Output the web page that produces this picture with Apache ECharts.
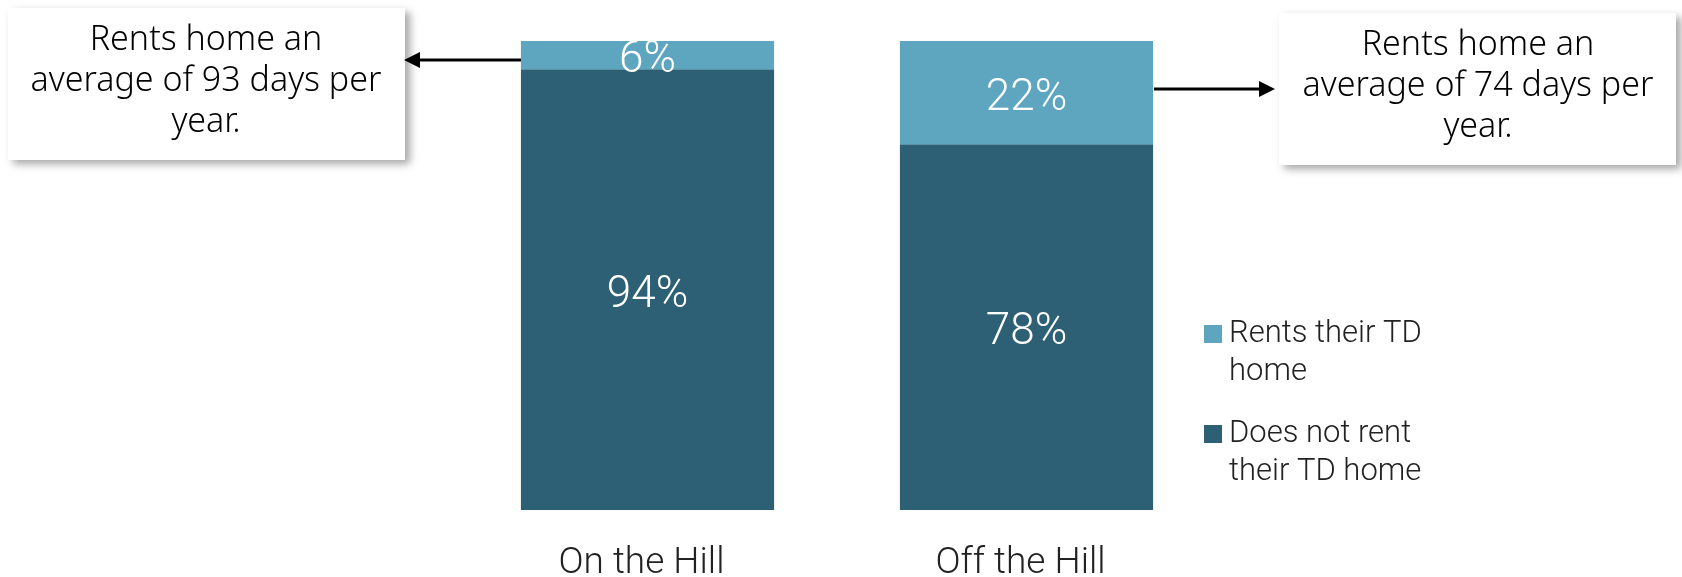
<!DOCTYPE html>
<html>
<head>
<meta charset="utf-8">
<script src="https://cdn.jsdelivr.net/npm/echarts@6/dist/echarts.min.js"></script>
<style>
  html, body { margin: 0; padding: 0; background: #fff; }
  #rent-chart { width: 1682px; height: 577px; }
</style>
</head>
<body>
<div id="rent-chart"></div>
<script>
var categories = ["On the Hill", "Off the Hill"];
var doesNotRent = [94, 78];
var rents = [6, 22];
var seriesNames = ["Does not rent their TD home", "Rents their TD home"];
var legendLines = {
  "Rents their TD home": "Rents their TD\nhome",
  "Does not rent their TD home": "Does not rent\ntheir TD home"
};
var notes = [
  "Rents home an\naverage of 93 days per\nyear.",
  "Rents home an\naverage of 74 days per\nyear."
];

var chart = echarts.init(document.getElementById("rent-chart"));

var option = {
  animation: false,
  grid: {
    left: 458,
    right: 466,
    top: 41,
    bottom: 67,
    outerBoundsMode: "none"
  },
  legend: {
    orient: "vertical",
    left: 1199,
    top: 272,
    itemWidth: 18,
    itemHeight: 18,
    itemGap: -14,
    icon: "rect",
    data: [seriesNames[1], seriesNames[0]],
    formatter: function (name) {
      // empty first line so the square sits beside the first text line
      return "\n" + legendLines[name];
    },
    textStyle: {
      fontFamily: "Roboto",
      fontWeight: 300,
      fontSize: 31,
      lineHeight: 38,
      color: "#222",
      padding: [0, 0, 0, 2]
    }
  },
  xAxis: {
    type: "category",
    data: categories,
    axisLine: { show: false },
    axisTick: { show: false },
    axisLabel: {
      margin: 35,
      fontFamily: "Roboto",
      fontWeight: 300,
      fontSize: 37,
      color: "#222",
      padding: [0, 12, 0, 0]
    }
  },
  yAxis: {
    type: "value",
    min: 0,
    max: 100,
    show: false
  },
  series: [
    {
      name: seriesNames[0],
      type: "bar",
      stack: "total",
      data: doesNotRent,
      barWidth: "66.8%",
      itemStyle: { color: "#2e6075" },
      label: {
        show: true,
        position: "inside",
        offset: [0, 6],
        formatter: "{c}%",
        fontFamily: "Roboto",
        fontWeight: 300,
        fontSize: 44,
        color: "#fff"
      }
    },
    {
      name: seriesNames[1],
      type: "bar",
      stack: "total",
      data: rents,
      barWidth: "66.8%",
      itemStyle: { color: "#5ea6c0" },
      label: {
        show: true,
        position: "inside",
        offset: [0, 6],
        formatter: "{c}%",
        fontFamily: "Roboto",
        fontWeight: 300,
        fontSize: 44,
        color: "#fff"
      }
    }
  ],
  graphic: [
    {
      type: "rect",
      shape: { x: 8, y: 8, width: 397, height: 152 },
      style: {
        fill: "#fff",
        shadowBlur: 8,
        shadowOffsetX: 5,
        shadowOffsetY: 4,
        shadowColor: "rgba(0,0,0,0.35)"
      }
    },
    {
      type: "text",
      x: 206,
      y: 20,
      style: {
        text: notes[0],
        align: "center",
        verticalAlign: "top",
        fontFamily: "Noto Sans",
        fontWeight: 300,
        fontSize: 34,
        lineHeight: 41,
        fill: "#000"
      }
    },
    {
      type: "rect",
      shape: { x: 1279, y: 13, width: 397, height: 152 },
      style: {
        fill: "#fff",
        shadowBlur: 8,
        shadowOffsetX: 5,
        shadowOffsetY: 4,
        shadowColor: "rgba(0,0,0,0.35)"
      }
    },
    {
      type: "text",
      x: 1478,
      y: 25,
      style: {
        text: notes[1],
        align: "center",
        verticalAlign: "top",
        fontFamily: "Noto Sans",
        fontWeight: 300,
        fontSize: 34,
        lineHeight: 41,
        fill: "#000"
      }
    },
    // arrows
    {
      type: "line",
      shape: { x1: 521, y1: 60, x2: 418, y2: 60 },
      style: { stroke: "#000", lineWidth: 3 }
    },
    {
      type: "polygon",
      shape: { points: [[404, 60], [420, 52], [420, 68]] },
      style: { fill: "#000" }
    },
    {
      type: "line",
      shape: { x1: 1154, y1: 89, x2: 1261, y2: 89 },
      style: { stroke: "#000", lineWidth: 3 }
    },
    {
      type: "polygon",
      shape: { points: [[1275, 89], [1259, 81], [1259, 97]] },
      style: { fill: "#000" }
    }
  ]
};

chart.setOption(option);
window.addEventListener("resize", function () {
  chart.resize();
});
</script>
</body>
</html>
